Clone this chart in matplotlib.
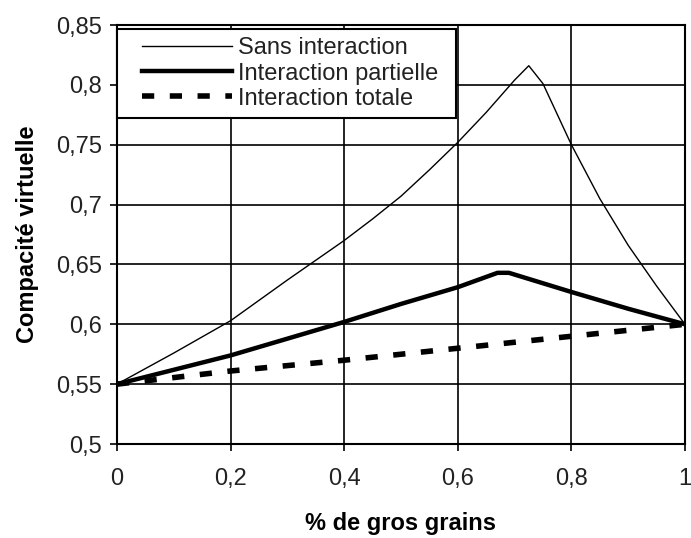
import matplotlib.pyplot as plt
from matplotlib.ticker import FuncFormatter
from matplotlib.legend_handler import HandlerLine2D

# % de gros grains
x_sans = [0, 0.1, 0.2, 0.3, 0.4, 0.45, 0.5, 0.55, 0.6, 0.65, 0.7, 0.725, 0.75, 0.8, 0.85, 0.9, 0.95, 1.0]
y_sans = [0.55, 0.576, 0.603, 0.637, 0.670, 0.688, 0.707, 0.729, 0.752, 0.777, 0.804, 0.816, 0.801,
          0.750, 0.705, 0.666, 0.632, 0.60]

x_part = [0, 0.1, 0.2, 0.3, 0.4, 0.5, 0.6, 0.67, 0.69, 0.8, 0.9, 1.0]
y_part = [0.55, 0.562, 0.574, 0.588, 0.602, 0.617, 0.631, 0.643, 0.643, 0.627, 0.613, 0.60]

x_tot = [0, 0.1, 0.2, 0.3, 0.4, 0.5, 0.6, 0.7, 0.8, 0.9, 1.0]
y_tot = [0.55, 0.5555, 0.561, 0.5655, 0.570, 0.575, 0.580, 0.585, 0.590, 0.595, 0.60]

xticks = [0, 0.2, 0.4, 0.6, 0.8, 1.0]
yticks = [0.5, 0.55, 0.6, 0.65, 0.7, 0.75, 0.8, 0.85]

plt.rcParams['font.family'] = ['Liberation Sans', 'DejaVu Sans']

fig = plt.figure(figsize=(6.91, 5.38), dpi=100)
ax = fig.add_axes([0.1693, 0.1747, 0.8220, 0.7788])

l1, = ax.plot(x_sans, y_sans, color='black', lw=1.0, label='Sans interaction')
l2, = ax.plot(x_part, y_part, color='black', lw=3.2, label='Interaction partielle')
l3, = ax.plot(x_tot, y_tot, color='black', lw=4.0, dashes=(2.2, 2.8),
              dash_capstyle='butt', label='Interaction totale')

ax.set_xlim(0, 1)
ax.set_ylim(0.5, 0.85)
ax.set_xticks(xticks)
ax.set_yticks(yticks)
comma = FuncFormatter(lambda v, p: ('%g' % v).replace('.', ','))
ax.xaxis.set_major_formatter(comma)
ax.yaxis.set_major_formatter(comma)
ax.tick_params(labelsize=17, length=5, width=1.2, color='black', direction='out',
               labelcolor='#222222')
ax.tick_params(axis='x', pad=12)
ax.tick_params(axis='y', pad=6)

ax.grid(True, color='black', lw=1.2)
ax.set_axisbelow(True)
for s in ax.spines.values():
    s.set_linewidth(1.5)

ax.set_xlabel('% de gros grains', fontsize=17, fontweight='bold', labelpad=16)
ax.set_ylabel('Compacité virtuelle', fontsize=17, fontweight='bold', labelpad=12)

hmap = {h: HandlerLine2D(xpad=0.72) for h in (l1, l2, l3)}
leg = ax.legend(loc='upper left', bbox_to_anchor=(0, 0.99, 0.597, 0), mode='expand',
                borderaxespad=0, fontsize=17, frameon=True, fancybox=False,
                framealpha=1, edgecolor='black', handlelength=4.53,
                handletextpad=0.25, labelspacing=0.13, borderpad=0.35,
                handler_map=hmap)
leg.get_frame().set_linewidth(1.5)
for t in leg.get_texts():
    t.set_color('#222222')

fig.savefig('out.png', dpi=100)
